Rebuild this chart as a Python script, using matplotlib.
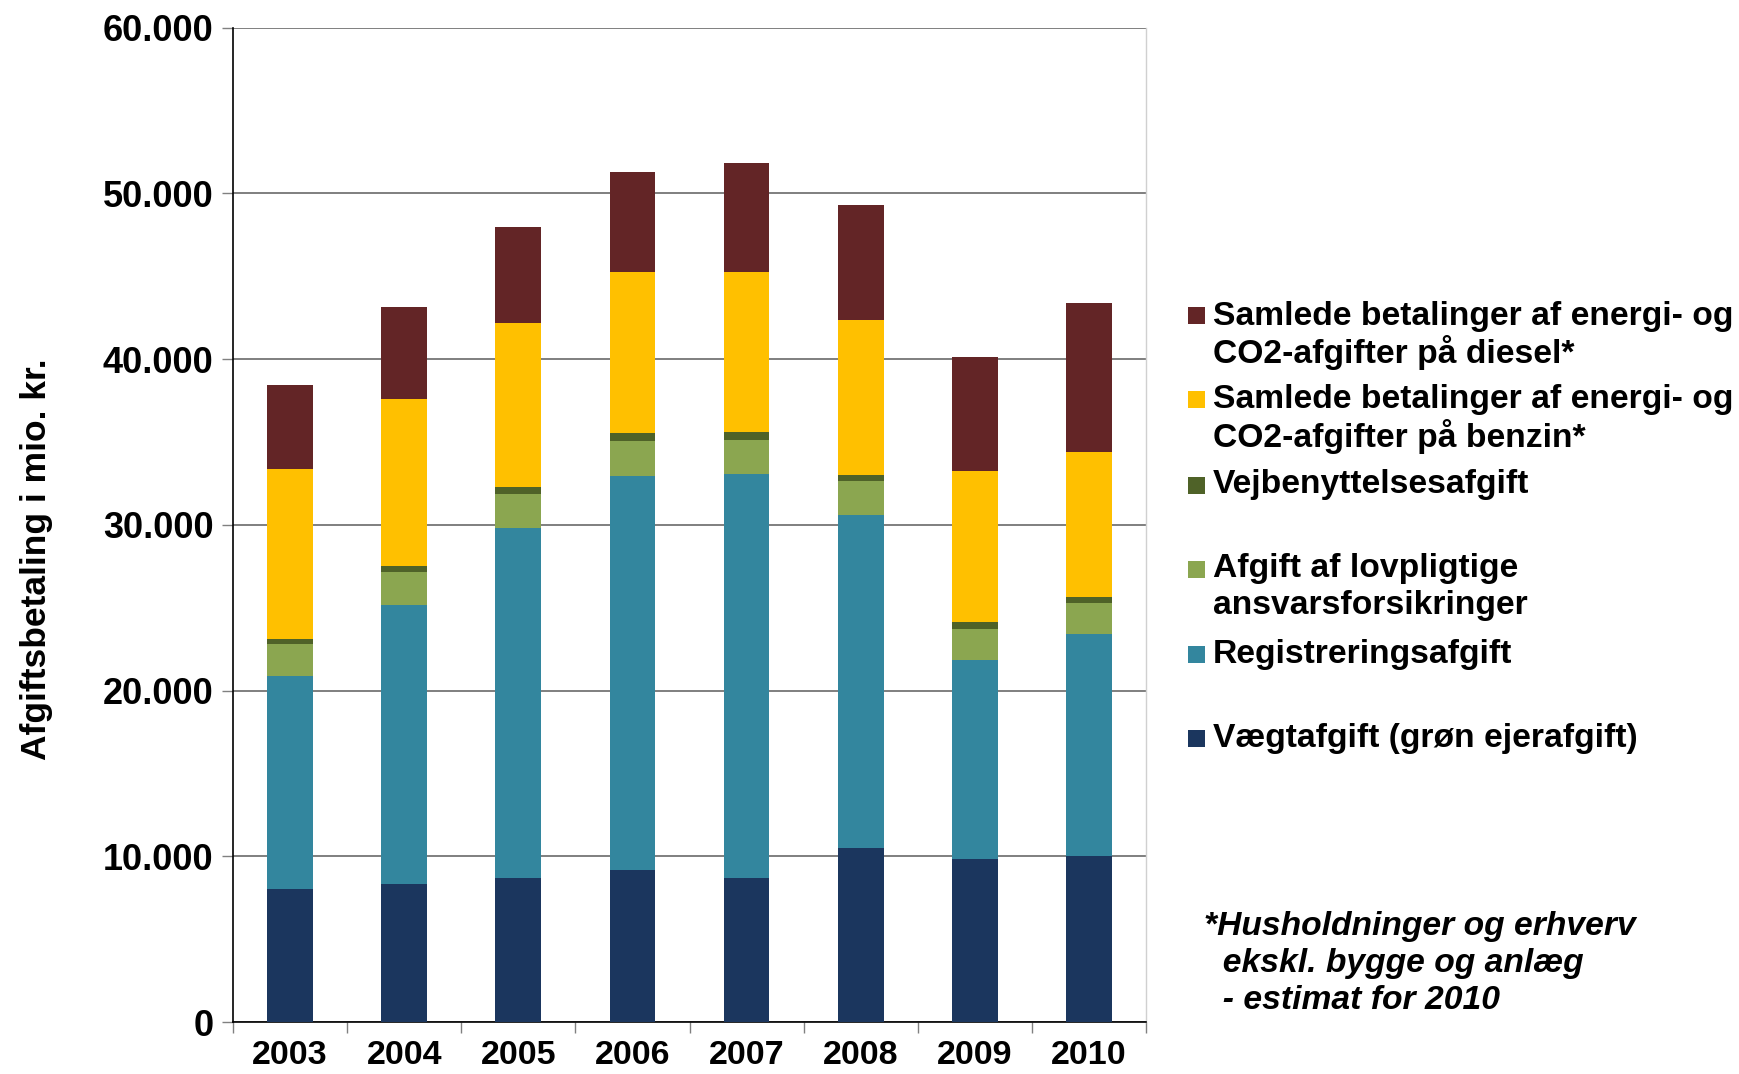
import matplotlib
matplotlib.use("Agg")
import matplotlib.pyplot as plt
import matplotlib.ticker as mticker
from matplotlib.patches import Rectangle
import numpy as np

plt.rcParams['font.family'] = ['Liberation Sans', 'DejaVu Sans']

years = ["2003", "2004", "2005", "2006", "2007", "2008", "2009", "2010"]

vaegtafgift = [8010, 8300, 8670, 9200, 8690, 10530, 9820, 10020]
registreringsafgift = [12850, 16850, 21150, 23770, 24360, 20070, 12040, 13390]
ansvarsforsikring = [1930, 2020, 2050, 2110, 2090, 2020, 1830, 1880]
vejbenyttelse = [310, 350, 430, 450, 470, 390, 450, 330]
benzin = [10250, 10090, 9870, 9720, 9620, 9380, 9130, 8770]
diesel = [5060, 5510, 5790, 6060, 6620, 6940, 6860, 9010]

series = [vaegtafgift, registreringsafgift, ansvarsforsikring, vejbenyttelse, benzin, diesel]
labels = ["Vægtafgift (grøn ejerafgift)",
          "Registreringsafgift",
          "Afgift af lovpligtige\nansvarsforsikringer",
          "Vejbenyttelsesafgift",
          "Samlede betalinger af energi- og\nCO2-afgifter på benzin*",
          "Samlede betalinger af energi- og\nCO2-afgifter på diesel*"]
colors = ["#1B365E", "#33869E", "#8BA650", "#4F6228", "#FFC000", "#632526"]

y_label = "Afgiftsbetaling i mio. kr."
footnote = ["*Husholdninger og erhverv", "  ekskl. bygge og anlæg", "  - estimat for 2010"]

W, H = 1740, 1074
fig = plt.figure(figsize=(W / 100, H / 100), dpi=100)
ax_l, ax_r, ax_t, ax_b = 233, 1146, 27.7, 1022
ax = fig.add_axes([ax_l / W, 1 - ax_b / H, (ax_r - ax_l) / W, (ax_b - ax_t) / H])

x = np.arange(len(years))
bottom = np.zeros(len(years))
for vals, col in zip(series, colors):
    ax.bar(x, vals, width=0.4, bottom=bottom, color=col, edgecolor="none", zorder=3)
    bottom += np.array(vals)

ax.set_xlim(-0.5, len(years) - 0.5)
ax.set_ylim(0, 60000)
ax.set_yticks(np.arange(0, 60001, 10000))
ax.yaxis.set_major_formatter(mticker.FuncFormatter(lambda v, p: f"{int(v):,}".replace(",", ".")))
ax.grid(axis="y", color="#7f7f7f", linewidth=1.4, zorder=0)
ax.set_xticks(x)
ax.set_xticklabels(years)
ax.set_xticks(np.arange(-0.5, len(years)), minor=True)
ax.tick_params(axis="x", which="major", length=0, pad=13, labelsize=24.5)
ax.tick_params(axis="x", which="minor", length=8, width=1.0, color="#808080", direction="out")
ax.tick_params(axis="y", length=8, width=1.0, color="#808080", pad=6, labelsize=26)
for lab in ax.get_xticklabels() + ax.get_yticklabels():
    lab.set_fontweight("bold")

ax.spines["left"].set_color("black")
ax.spines["left"].set_linewidth(1.2)
ax.spines["bottom"].set_color("black")
ax.spines["bottom"].set_linewidth(1.2)
ax.spines["top"].set_visible(False)
ax.spines["right"].set_color("#d0d0d0")
ax.spines["right"].set_linewidth(1.0)

fig.text(37 / W, 1 - 559 / H, y_label, rotation=90, ha="center", va="center",
         fontsize=25.5, fontweight="bold")

# Legend (manual, matching Excel layout)
entry_y = [316, 399.5, 485, 569, 654, 738]
order = [5, 4, 3, 2, 1, 0]
line_h = 36.6
sq = 17
for yc, idx in zip(entry_y, order):
    fig.patches.append(Rectangle(((1188) / W, 1 - (yc + sq / 2) / H), sq / W, sq / H,
                                 transform=fig.transFigure, facecolor=colors[idx],
                                 edgecolor="none"))
    for j, line in enumerate(labels[idx].split("\n")):
        fig.text(1213 / W, 1 - (yc + j * line_h) / H, line, ha="left", va="center",
                 fontsize=24.2, fontweight="bold")

for j, line in enumerate(footnote):
    fig.text(1204 / W, 1 - (927 + j * line_h) / H, line, ha="left", va="center",
             fontsize=24.2, fontweight="bold", style="italic")

fig.savefig("out.png", dpi=100)
